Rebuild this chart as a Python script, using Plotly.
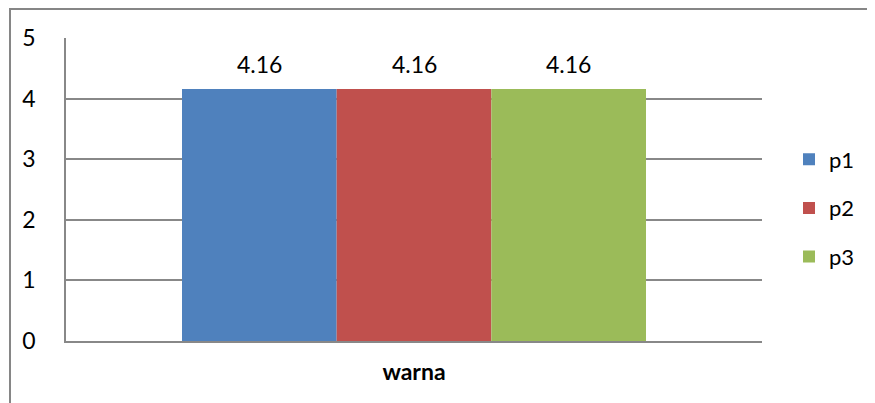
import plotly.graph_objects as go

categories = ["warna"]
series_names = ["p1", "p2", "p3"]
series_values = [[4.16], [4.16], [4.16]]
colors = ["#4F81BD", "#C0504D", "#9BBB59"]
y_ticks = [0, 1, 2, 3, 4, 5]

FONT = "Lato, 'Open Sans', sans-serif"
GRID = "#888888"
OFF = 8  # page body margin

fig = go.Figure()
for i, (name, vals) in enumerate(zip(series_names, series_values)):
    fig.add_trace(go.Bar(
        x=categories, y=vals, name=name,
        marker=dict(color=colors[i], line=dict(width=0)),
        legendgroup=name,
    ))

# data labels
n = len(series_names)
bar_w = (1 - 1/3) / n
for i, vals in enumerate(series_values):
    for j, v in enumerate(vals):
        fig.add_annotation(
            x=j - (1 - 1/3)/2 + bar_w*(i + 0.5), y=v, xref="x", yref="y",
            text=f"{v:.2f}", showarrow=False, yanchor="middle", yshift=25,
            font=dict(family=FONT, size=23, color="#000000"),
        )

# outer chart border
fig.add_shape(type="rect", xref="paper", yref="paper",
              x0=(10-66)/696, x1=(900-66)/696, y0=(341-420)/303, y1=(341-9)/303,
              line=dict(color="#868686", width=2), fillcolor="rgba(0,0,0,0)", layer="below")

fig.update_layout(
    width=875-OFF, height=403-OFF,
    margin=dict(l=66-OFF, r=113, t=38-OFF, b=62),
    paper_bgcolor="white", plot_bgcolor="white",
    barmode="group", bargap=1/3, bargroupgap=0,
    font=dict(family=FONT, size=21, color="#000000"),
    showlegend=True,
    legend=dict(x=(789-66)/696, xanchor="left", y=(341-208)/303, yanchor="middle",
                font=dict(family=FONT, size=22, color="#000000"),
                tracegroupgap=17, bgcolor="rgba(0,0,0,0)"),
    xaxis=dict(showticklabels=False, ticks="", showgrid=False, zeroline=False,
               showline=True, linecolor=GRID, linewidth=1.5,
               title=dict(text="<b>warna</b>", font=dict(family=FONT, size=23, color="#000000"),
                          standoff=22)),
    yaxis=dict(range=[0, 5], tickvals=y_ticks, showgrid=True, gridcolor=GRID, gridwidth=1.5,
               zeroline=False, showline=True, linecolor=GRID, linewidth=1.5,
               ticks="", ticklabelstandoff=24,
               tickfont=dict(family=FONT, size=23, color="#000000")),
)

fig.write_html("out.html")
